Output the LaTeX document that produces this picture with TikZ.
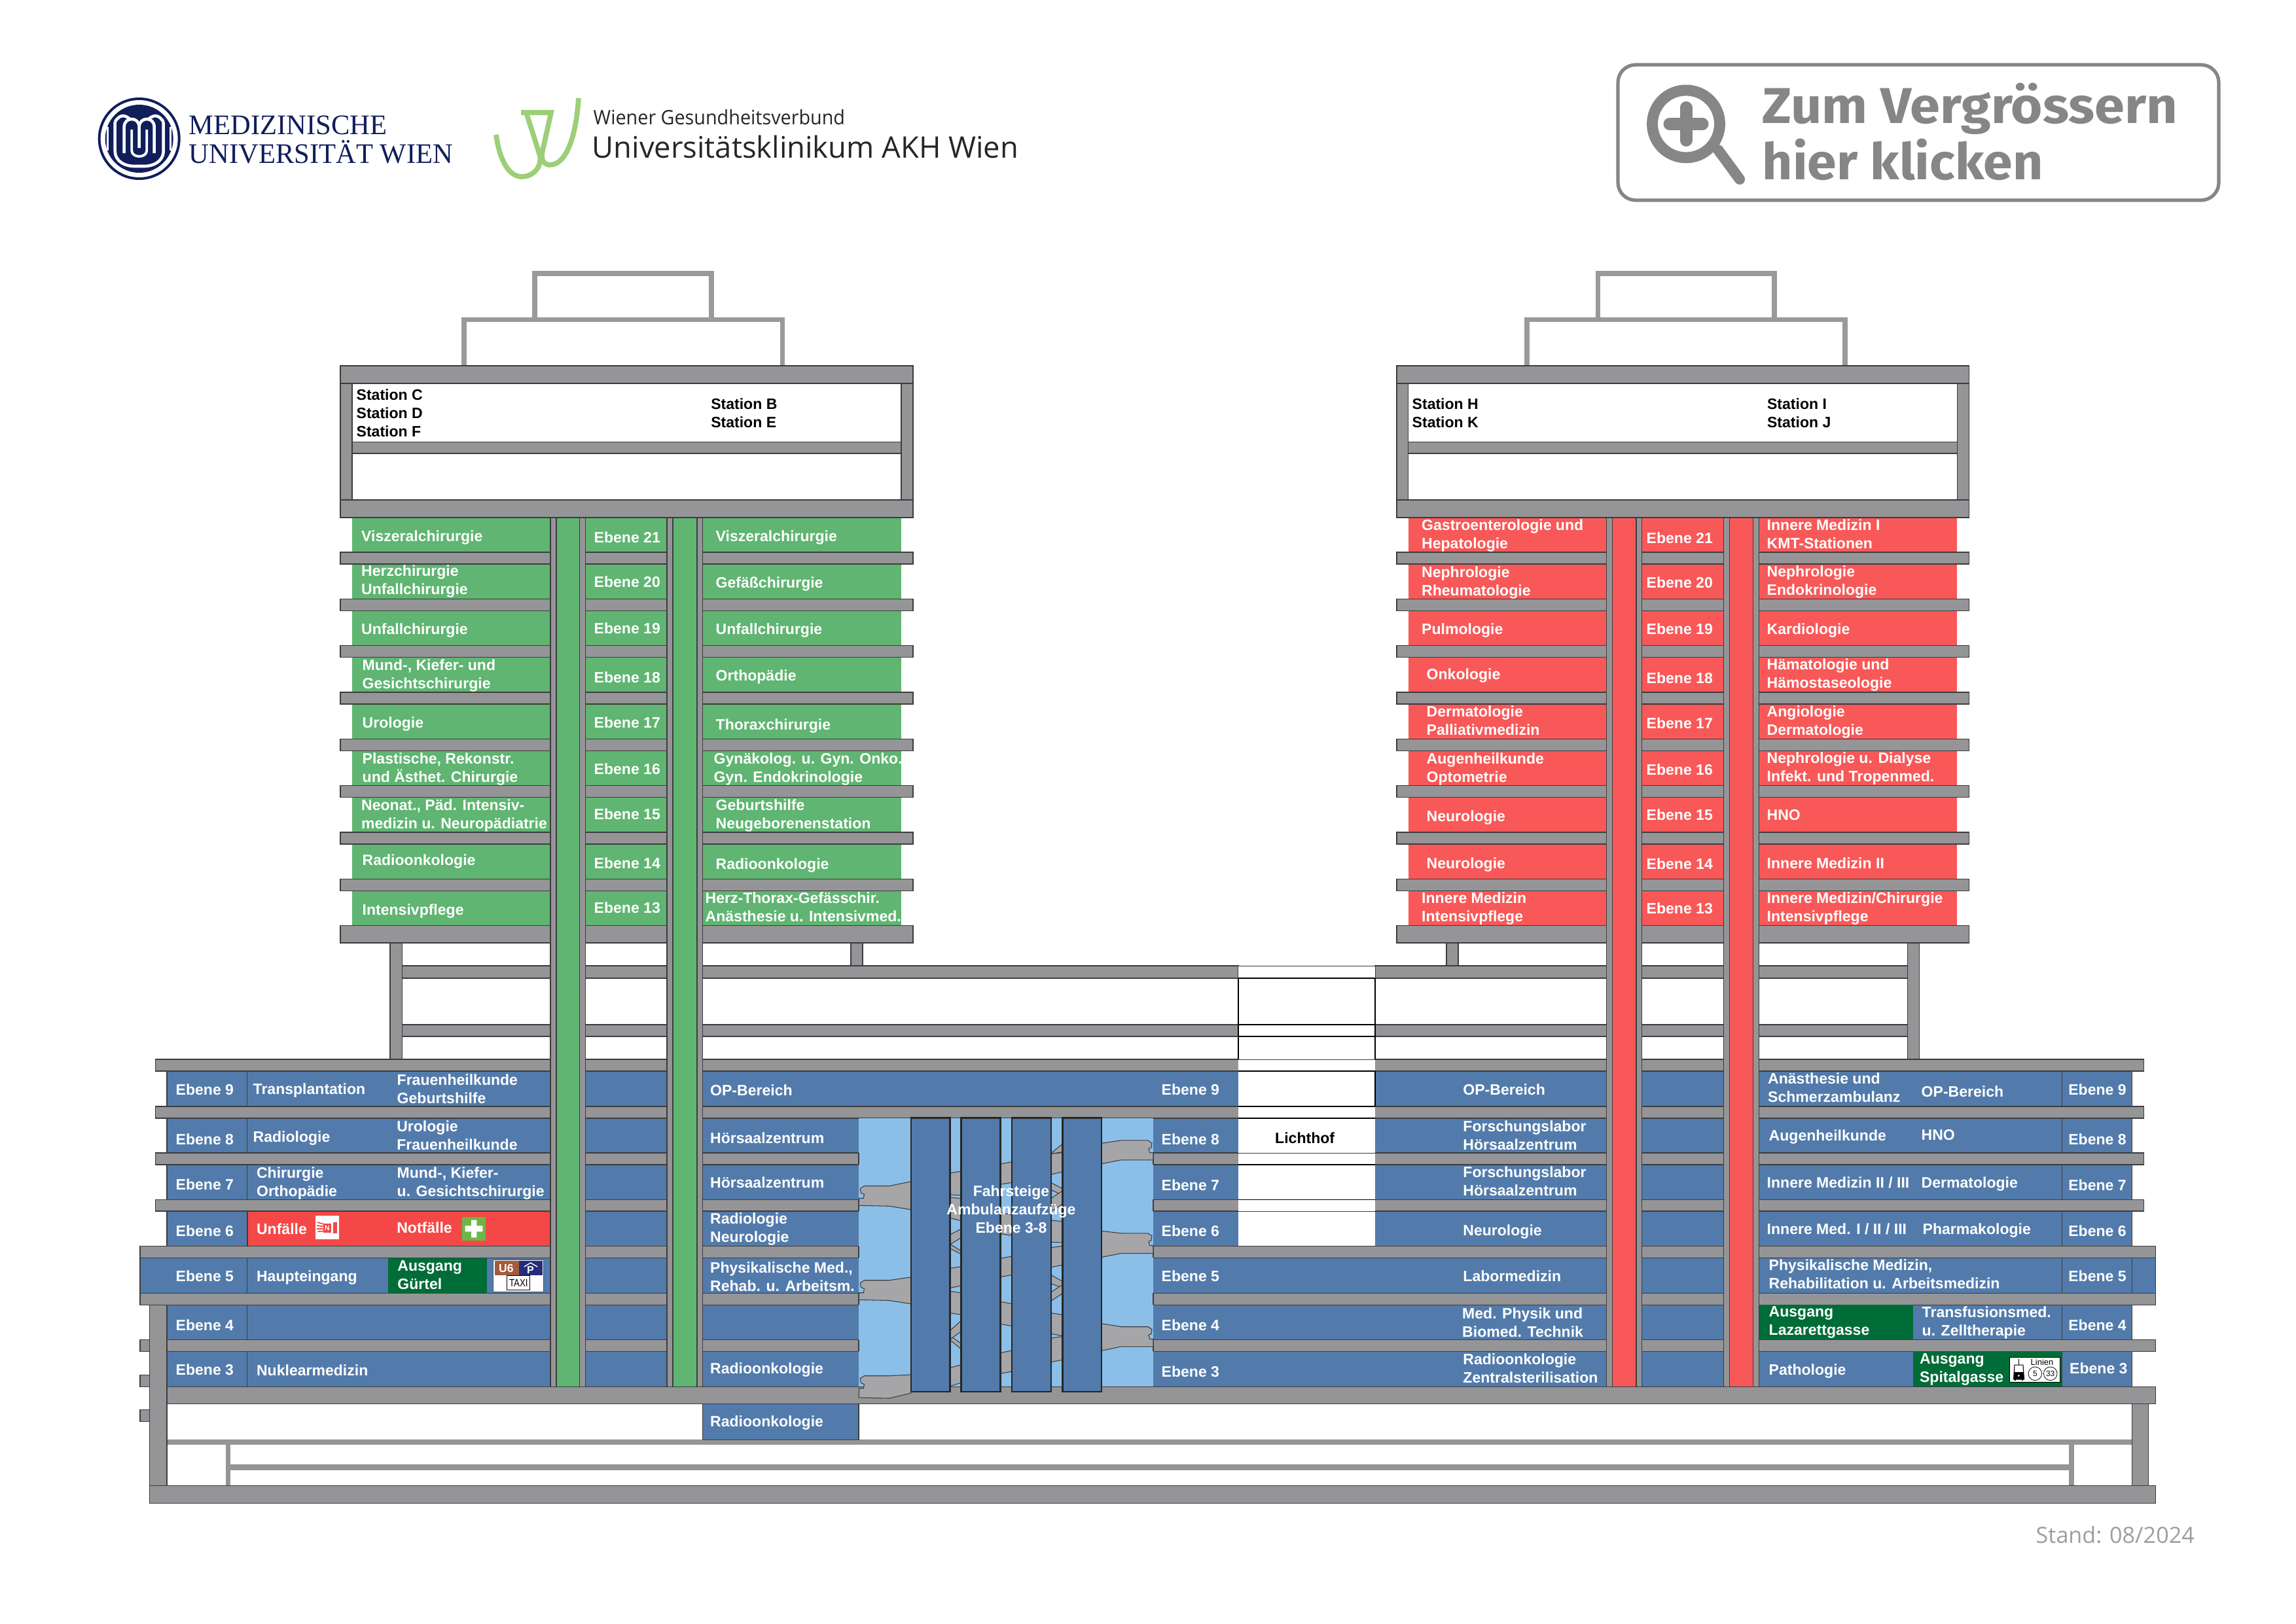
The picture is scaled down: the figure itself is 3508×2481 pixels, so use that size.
\documentclass[tikz,border=0pt]{standalone}
\usepackage{fontspec}
\usepackage{graphicx}
\setmainfont{Liberation Sans}
\newfontfamily\logoserif[FakeStretch=.985]{Liberation Serif}
\newfontfamily\headfontA[FakeStretch=1.075]{Fira Sans}
\newfontfamily\headfontB[FakeStretch=1.045]{Fira Sans}
\newfontfamily\wgvfont{Open Sans}
\newfontfamily\wgvfontA[FakeStretch=.945]{Open Sans}
\definecolor{slabc}{HTML}{959597}
\definecolor{roofc}{HTML}{9A9A9A}
\definecolor{edgec}{HTML}{3C3C3E}
\definecolor{greenc}{HTML}{5FB571}
\definecolor{redc}{HTML}{F85858}
\definecolor{emerg}{HTML}{F44848}
\definecolor{bluec}{HTML}{527BAB}
\definecolor{skyc}{HTML}{8BBFE8}
\definecolor{exitc}{HTML}{006C38}
\definecolor{bridgec}{HTML}{A6A6A8}
\definecolor{navyc}{HTML}{101E5C}
\definecolor{swoosh}{HTML}{9CCF78}
\definecolor{btn}{HTML}{868686}
\definecolor{crossc}{HTML}{6CB845}
\definecolor{u6c}{HTML}{A55A3A}
\definecolor{pc}{HTML}{262C78}
\newcounter{tn}
\newcommand{\rr}[5]{\path[#1] (#2,#3) rectangle (#4,#5);}
\newcommand{\tx}[4][white]{\stepcounter{tn}\node[lbl,text=#1] (t\arabic{tn}) at (#2,#3) {#4};}
\newcommand{\bas}[4]{\stepcounter{tn}\node[anchor=base west,inner sep=0pt,#1] (t\arabic{tn}) at (#2,#3) {#4};}
\newcommand{\gb}[6]{\path[bridge] (#1,#3) -- (#2,#4) -- (#2,#6) -- (#1,#5) -- cycle;}
\newcommand{\brL}[4]{\path[bridge] (1312,#3-1) -- (1358.7,#3) -- (1392,#4) -- (1392,#2) -- (1358.7,#1) -- (1320.4,#1) -- (1314.3,#1+4) -- (1315.3,#1+10.5) -- (1320.4,#1+13) -- (1319.3,#1+19) -- (1312.7,#1+19) -- cycle;}
\newcommand{\brR}[4]{\path[bridge] (1762,#3) -- (1713,#3) -- (1683,#4) -- (1683,#2) -- (1713,#1) -- (1754,#1) -- (1760,#1+4) -- (1759,#1+11) -- (1755,#1+12.5) -- (1756.6,#1+18.7) -- (1762,#1+18.7) -- cycle;}
\tikzset{
  lbl/.style={anchor=west,inner sep=0pt,yshift=-.035cm,align=left,font=\fontsize{6.55pt}{7.97pt}\selectfont\bfseries,
    execute at begin node=\strut,execute at end node=\strut},
  slab/.style={fill=slabc,draw=edgec,line width=.3pt},
  plain/.style={fill=slabc},
  roofl/.style={draw=roofc,line width=2.2pt},
  room/.style={fill=bluec,draw=edgec,line width=.3pt},
  bridge/.style={fill=bridgec,draw=edgec,line width=.3pt},
  pillar/.style={fill=bluec,draw=black!85,line width=.8pt},
  lit/.style={draw=black,line width=.35pt},
  dv/.style={draw=edgec,line width=.3pt},
}
\begin{document}
\begin{tikzpicture}[x=0.01cm,y=-0.01cm]
\useasboundingbox (0,0) rectangle (3508,2481);
\fill[white] (0,0) rectangle (3508,2481);

%% ---------- logos ----------
\begin{scope}[shift={(212.7,212)}]
  \fill[navyc] (0,0) circle[radius=63];
  \fill[white] (0,0) circle[radius=59];
  \fill[navyc] (0,0) circle[radius=52];
  \draw[white,line width=1.3pt] (-37,-26) -- (-37,18) .. controls (-37,36) and (-20,42) .. (-8,42) -- (8,42) .. controls (20,42) and (37,36) .. (37,18) -- (37,-26);
  \draw[white,line width=1.3pt] (-37,-26) .. controls (-30,-36) and (-24,-38) .. (-14,-30);
  \draw[white,line width=1.3pt] (37,-26) .. controls (30,-36) and (24,-38) .. (14,-30);
  \draw[white,line width=1.3pt] (-23,22) -- (-23,-18) .. controls (-23,-34) and (0,-34) .. (0,-18) -- (0,14) (0,-18) .. controls (0,-34) and (23,-34) .. (23,-18) -- (23,22);
  \draw[white,line width=1.1pt] (-11.5,-14) -- (-11.5,18) .. controls (-11.5,30) and (11.5,30) .. (11.5,18) -- (11.5,-14);
  \draw[white,line width=1pt] (-48,-18) -- (-48,18) (48,-18) -- (48,18);
\end{scope}
\bas{font=\logoserif\fontsize{12.3pt}{14pt}\selectfont,text=navyc}{288}{205}{MEDIZINISCHE}
\bas{font=\logoserif\fontsize{12.3pt}{14pt}\selectfont,text=navyc}{288}{249}{UNIVERSITÄT WIEN}
\draw[swoosh,line width=2.2pt] (758,206) .. controls (764,250) and (780,270) .. (797,270) .. controls (815,270) and (828,255) .. (825,238) -- (804,172);
\draw[swoosh,line width=2.2pt] (796,172) -- (842,172) -- (828,235) .. controls (827,245) and (832,252) .. (840,252) .. controls (865,252) and (880,210) .. (884,150);
\bas{font=\wgvfontA\fontsize{8.65pt}{10pt}\selectfont,text=black!85}{906}{190}{Wiener Gesundheitsverbund}
\bas{font=\wgvfont\fontsize{12.9pt}{14pt}\selectfont,text=black!85}{904}{241.5}{Universitätsklinikum AKH Wien}

%% ---------- button ----------
\draw[btn,line width=1.5pt,rounded corners=.27cm] (2472,99) rectangle (3390,306);
\draw[btn,line width=4.8pt] (2576,189.4) circle[radius=51.5];
\draw[btn,line width=5.4pt,line cap=round] (2551,189.4) -- (2601,189.4) (2576,164.4) -- (2576,214.4);
\draw[btn,line width=4.6pt,line cap=round] (2625,229) -- (2658,274);
\bas{font=\headfontA\bfseries\fontsize{21.9pt}{24pt}\selectfont,text=btn}{2692}{188.5}{Zum Vergrössern}
\bas{font=\headfontB\bfseries\fontsize{21.9pt}{24pt}\selectfont,text=btn}{2692}{274.7}{hier klicken}

%% ---------- roofs ----------
\draw[roofl] (709,559) |- (1195.5,488.5) -- (1195.5,559);
\draw[roofl] (817,484.6) |- (1087,418) -- (1087,484.6);
\draw[roofl] (2333,559) |- (2819,488.5) -- (2819,559);
\draw[roofl] (2441.5,484.6) |- (2711,418) -- (2711,484.6);

%% ---------- tower rooms ----------
\fill[greenc] (537.6,791) rectangle (1377,1415);
\fill[redc] (2151.5,791) rectangle (2990,1415);

%% ---------- tower slabs ----------
\foreach \xa/\xb/\xc/\xd in {520/538/1377/1395,2134/2151.5/2990/3008}{
  \rr{slab}{\xa}{559}{\xd}{586}
  \rr{slab}{\xa}{586}{\xb}{764}
  \rr{slab}{\xc}{586}{\xd}{764}
  \rr{slab}{\xb}{675.6}{\xc}{693}
  \rr{slab}{\xa}{764}{\xd}{791}
  \foreach \y in {844,915.3,986.6,1058,1129.3,1200.6,1272,1343.3}{
    \rr{slab}{\xa}{\y}{\xd}{\y+18}
  }
  \rr{slab}{\xa}{1414.5}{\xd}{1441}
}
%% ---------- posts and link slabs ----------
\rr{slab}{596}{1441}{614.4}{1619}
\rr{slab}{1300}{1441}{1318}{1476}
\rr{slab}{2210}{1441}{2228}{1476}
\rr{slab}{2914}{1441}{2932.4}{1619}
\foreach \y/\yy in {1476/1495,1566/1584}{
  \rr{slab}{614.4}{\y}{1892}{\yy}
  \rr{slab}{2101}{\y}{2914}{\yy}
}
%% ---------- low building: rows ----------
\foreach \y/\yy in {1637/1691,1709/1762,1780/1833.4,1851/1904.6,1994/2047.5,2065/2119}{
  \rr{room}{255}{\y}{3257.7}{\yy}
}
\rr{room}{214}{1922.4}{3293.6}{1976}
\foreach \y/\yy in {1619/1637,1691/1709,1762/1780,1833.4/1851}{
  \rr{slab}{237.4}{\y}{3275}{\yy}
}
\rr{slab}{214}{1904.6}{3293.6}{1922.4}
\rr{slab}{214}{1976}{3293.6}{1994}
\rr{slab}{255}{2047.5}{3293.6}{2065}
%% coloured cells
\rr{fill=emerg,draw=edgec,line width=.3pt}{378}{1851}{841}{1904.6}
\rr{fill=exitc}{593.3}{1922.8}{744}{1975.6}
\rr{fill=exitc}{2687.5}{1994.4}{2923}{2047.2}
\rr{fill=exitc}{2923}{2065.4}{3150.5}{2118.6}
%% dividers
\foreach \y/\yy in {1637/1691,1709/1762,1780/1833.4,1851/1904.6,1922.4/1976,1994/2047.5,2065/2119}{
  \draw[dv] (377.5,\y) -- (377.5,\yy);
  \draw[dv] (3150.5,\y) -- (3150.5,\yy);
}
\draw[dv] (3257.7,1922.4) -- (3257.7,1976);
%% lower part
\rr{plain}{255}{2200}{3257}{2208}
\rr{plain}{344.5}{2238}{3160.6}{2247}
\rr{plain}{344.5}{2208}{352}{2270}
\rr{plain}{3160.6}{2208}{3169}{2270}
\rr{room}{1073.5}{2145}{1312}{2200}
\rr{slab}{228.6}{1994}{255}{2270}
\rr{slab}{3257}{2145}{3282.5}{2270}
\rr{slab}{214}{2047.5}{228.6}{2065}
\rr{slab}{214}{2101}{228.6}{2119}
\rr{slab}{214}{2154}{228.6}{2172}
\rr{slab}{228.6}{2270}{3293.6}{2297}

%% ---------- Lichthof ----------
\fill[white] (1892,1476) rectangle (2101,1904.6);
\foreach \y in {1495,1566,1584,1637,1691,1709,1780,1833.4}{
  \draw[lit] (1892,\y) -- (2101,\y);
}
\foreach \y in {1476,1619,1762,1851,1904.6}{
  \draw[edgec,line width=.25pt] (1892,\y) -- (2101,\y);
}
\draw[lit] (1892,1495) -- (1892,1619) (2101,1495) -- (2101,1619) (2101,1637) -- (2101,1691);

%% ---------- shafts ----------
\foreach \a/\b/\c/\d/\col in {841/850/885.5/894.5/greenc,1019/1028/1065/1073.5/greenc,2454.5/2463.5/2500/2508.5/redc,2633/2642/2678.5/2687.5/redc}{
  \rr{slab}{\a}{791}{\d}{2119}
  \rr{fill=\col,draw=edgec,line width=.3pt}{\b}{791}{\c}{2119}
}
\rr{slab}{255}{2119}{3293.6}{2145.5}

%% ---------- ramps and lifts ----------
\fill[skyc] (1312,1708.8) rectangle (1762,2118.6);
\foreach \y/\yy in {1762/1780,1833.4/1851,1904.6/1922.4,1976/1994,2047.5/2065}{
  \draw[dv] (1312,\y) -- (1312,\yy);
  \draw[dv] (1762,\y) -- (1762,\yy);
}
\brL{1812.5}{1805.8}{1843.3}{1848.7}
\brL{1956.7}{1951.8}{1987.5}{1992.8}
\brL{2102.7}{2101}{2137}{2129}
\brR{1742.9}{1747.3}{1772.8}{1778.6}
\brR{1884.8}{1881.3}{1915.6}{1921.4}
\brR{2027.7}{2022.8}{2058}{2064.3}
\begin{scope}[shift={(1440,1720)},x=0.01cm/3,y=-0.01cm/3]
  %% gap A
  \gb{36}{85}{218}{210}{318}{320}
  \gb{36}{85}{330}{335}{425}{437}
  \gb{36}{85}{545}{575}{565}{590}
  \gb{36}{85}{500}{475}{545}{515}
  \gb{36}{85}{655}{647}{745}{735}
  \gb{36}{85}{760}{768}{860}{868}
  \gb{36}{85}{965}{1000}{985}{1025}
  \gb{36}{85}{940}{895}{980}{945}
  \gb{36}{85}{1110}{1098}{1195}{1180}
  %% gap B
  \gb{265}{318}{177}{167}{270}{262}
  \gb{265}{318}{400}{410}{497}{505}
  \gb{265}{318}{610}{600}{695}{685}
  \gb{265}{318}{808}{818}{910}{920}
  \gb{265}{318}{1043}{1032}{1138}{1128}
  %% gap C
  \gb{497}{550}{128}{85}{130}{122}
  \gb{497}{550}{130}{125}{225}{213}
  \gb{497}{550}{262}{290}{295}{320}
  \gb{497}{550}{335}{300}{395}{360}
  \gb{497}{550}{435}{440}{535}{537}
  \gb{497}{550}{560}{553}{650}{640}
  \gb{497}{550}{685}{715}{725}{745}
  \gb{497}{550}{765}{730}{805}{770}
  \gb{497}{550}{860}{868}{955}{965}
  \gb{497}{550}{975}{968}{1085}{1075}
\end{scope}
\foreach \a/\b in {1392/1451.5,1468.4/1528.6,1546/1606,1623.5/1683}{
  \rr{pillar}{\a}{1708.5}{\b}{2127}
}

%% ---------- icons ----------
\fill[white] (482,1858) rectangle (518,1894);
\fill[emerg] (494,1870) rectangle (506,1884);
\draw[emerg,line width=.5pt] (485,1868) -- (495,1871) (484,1873) -- (495,1874.5) (484,1878) -- (495,1878) (486,1882) -- (495,1881.5);
\fill[emerg] (509,1868) rectangle (515,1885);
\node[inner sep=0pt,text=white,font=\fontsize{3pt}{3pt}\selectfont\bfseries] (handn) at (500,1877) {N};
\fill[crossc] (706,1860) rectangle (742,1896);
\fill[white] (710.7,1873.3) rectangle (737.3,1882.3) (720,1864.7) rectangle (728.3,1891.3);
\rr{fill=white,draw=bluec!70!black,line width=.2pt}{753.3}{1925.3}{830.7}{1974}
\fill[u6c] (756,1927.3) rectangle (792.7,1949);
\fill[pc] (792.7,1927.3) rectangle (828.7,1949);
\node[inner sep=0pt,text=white,font=\fontsize{5pt}{5pt}\selectfont\bfseries] (u6) at (773.3,1938.3) {U6};
\node[inner sep=0pt,text=white,font=\fontsize{4.5pt}{5pt}\selectfont\bfseries] (pk) at (810.5,1941.5) {P};
\draw[white,line width=.4pt] (800.7,1936) -- (810.7,1930) -- (821,1936);
\node[draw=black,line width=.3pt,fill=white,inner sep=0pt,minimum height=.217cm,minimum width=.353cm,font=\fontsize{4.6pt}{5pt}\selectfont] (taxi) at (792.3,1960.8) {\scalebox{.82}[1]{TAXI}};
\rr{fill=white,draw=black,line width=.35pt}{3070.7}{2074.3}{3147.3}{2112.3}
\draw[black,line width=.25pt] (3084.3,2076.7) -- (3084.3,2086);
\draw[black,line width=.3pt] (3078,2086) -- (3091,2086) -- (3092.5,2108) -- (3076.5,2108) -- cycle;
\fill[black] (3076.8,2097) rectangle (3092.3,2108);
\fill[white] (3084.3,2102.5) circle[radius=1.6];
\draw[black,line width=.4pt] (3079,2108) -- (3079,2110) (3090,2108) -- (3090,2110);
\node[inner sep=0pt,text=black,font=\fontsize{3.7pt}{4pt}\selectfont] (lin) at (3120,2082.3) {Linien};
\node[draw=black,circle,line width=.22pt,minimum size=.206cm,inner sep=0pt,text=black,font=\fontsize{3.4pt}{4pt}\selectfont] (l5) at (3109.3,2099.3) {5};
\node[draw=black,circle,line width=.22pt,minimum size=.206cm,inner sep=0pt,text=black,font=\fontsize{3.4pt}{4pt}\selectfont] (l33) at (3132.7,2099.3) {33};

%% ---------- station labels ----------
\tx[black]{544}{631.5}{Station C\\Station D\\Station F}
\tx[black]{1085.6}{631.5}{Station B\\Station E}
\tx[black]{2157}{631.5}{Station H\\Station K}
\tx[black]{2699.4}{631.5}{Station I\\Station J}

%% ---------- tower left ----------
\tx{551.5}{818}{Viszeralchirurgie}
\tx{551.5}{887}{Herzchirurgie\\Unfallchirurgie}
\tx{551.5}{960}{Unfallchirurgie}
\tx{553}{1030.4}{Mund-, Kiefer- und\\Gesichtschirurgie}
\tx{553}{1103}{Urologie}
\tx{553}{1174}{Plastische, Rekonstr.\\und Ästhet. Chirurgie}
\tx{551.5}{1244.6}{Neonat., Päd. Intensiv-\\medizin u. Neuropädiatrie}
\tx{553}{1313}{Radioonkologie}
\tx{553}{1389}{Intensivpflege}
\tx{907}{820}{Ebene 21}
\tx{907}{888.4}{Ebene 20}
\tx{907}{959}{Ebene 19}
\tx{907}{1034}{Ebene 18}
\tx{907}{1103}{Ebene 17}
\tx{907}{1174}{Ebene 16}
\tx{907}{1243}{Ebene 15}
\tx{907}{1318}{Ebene 14}
\tx{907}{1386}{Ebene 13}
\tx{1093}{818}{Viszeralchirurgie}
\tx{1093}{889}{Gefäßchirurgie}
\tx{1093}{960}{Unfallchirurgie}
\tx{1093}{1031.5}{Orthopädie}
\tx{1093}{1106}{Thoraxchirurgie}
\tx{1090}{1174}{Gynäkolog. u. Gyn. Onko.\\Gyn. Endokrinologie}
\tx{1093}{1244.4}{Geburtshilfe\\Neugeborenenstation}
\tx{1093}{1319}{Radioonkologie}
\tx{1077}{1387}{Herz-Thorax-Gefässchir.\\Anästhesie u. Intensivmed.}

%% ---------- tower right ----------
\tx{2171.5}{816.4}{Gastroenterologie und\\Hepatologie}
\tx{2171.5}{889}{Nephrologie\\Rheumatologie}
\tx{2171.5}{960}{Pulmologie}
\tx{2179}{1029}{Onkologie}
\tx{2179}{1102}{Dermatologie\\Palliativmedizin}
\tx{2179}{1174}{Augenheilkunde\\Optometrie}
\tx{2179}{1246}{Neurologie}
\tx{2179}{1318}{Neurologie}
\tx{2171.5}{1387}{Innere Medizin\\Intensivpflege}
\tx{2515}{821}{Ebene 21}
\tx{2515}{889}{Ebene 20}
\tx{2515}{960}{Ebene 19}
\tx{2515}{1035}{Ebene 18}
\tx{2515}{1104}{Ebene 17}
\tx{2515}{1175}{Ebene 16}
\tx{2515}{1244}{Ebene 15}
\tx{2515}{1319}{Ebene 14}
\tx{2515}{1387}{Ebene 13}
\tx{2699}{817}{Innere Medizin I\\KMT-Stationen}
\tx{2699}{888}{Nephrologie\\Endokrinologie}
\tx{2699}{960}{Kardiologie}
\tx{2699}{1030}{Hämatologie und\\Hämostaseologie}
\tx{2699}{1102}{Angiologie\\Dermatologie}
\tx{2699}{1172.5}{Nephrologie u. Dialyse\\Infekt. und Tropenmed.}
\tx{2699}{1244}{HNO}
\tx{2699}{1318}{Innere Medizin II}
\tx{2699}{1387}{Innere Medizin/Chirurgie\\Intensivpflege}

%% ---------- low building left ----------
\tx{268}{1664.6}{Ebene 9}
\tx{268}{1740}{Ebene 8}
\tx{268}{1809}{Ebene 7}
\tx{268}{1880}{Ebene 6}
\tx{268}{1949}{Ebene 5}
\tx{268}{2024}{Ebene 4}
\tx{268}{2092}{Ebene 3}
\tx{386}{1663.5}{Transplantation}
\tx{606}{1665}{Frauenheilkunde\\Geburtshilfe}
\tx{386}{1736}{Radiologie}
\tx{605.6}{1736}{Urologie\\Frauenheilkunde}
\tx{391.4}{1807}{Chirurgie\\Orthopädie}
\tx{606}{1806.7}{Mund-, Kiefer-\\u. Gesichtschirurgie}
\tx{391.4}{1877}{Unfälle}
\tx{605.6}{1875}{Notfälle}
\tx{391.4}{1949}{Haupteingang}
\tx{606.7}{1949}{Ausgang\\Gürtel}
\tx{391.4}{2093}{Nuklearmedizin}
\tx{1084.5}{1665}{OP-Bereich}
\tx{1084.5}{1738.7}{Hörsaalzentrum}
\tx{1084.5}{1806.4}{Hörsaalzentrum}
\tx{1084.5}{1877.3}{Radiologie\\Neurologie}
\tx{1084.5}{1951.4}{Physikalische Med.,\\Rehab. u. Arbeitsm.}
\tx{1084.5}{2090.6}{Radioonkologie}
\tx{1084.5}{2171.5}{Radioonkologie}
\stepcounter{tn}\node[lbl,align=center,anchor=center,text=white] (t\arabic{tn}) at (1545,1849) {Fahrsteige\\Ambulanzaufzüge\\Ebene 3-8};

%% ---------- low building centre ----------
\tx{1774}{1664.6}{Ebene 9}
\tx{1774}{1740}{Ebene 8}
\tx{1774}{1810}{Ebene 7}
\tx{1774}{1880}{Ebene 6}
\tx{1774}{1949}{Ebene 5}
\tx{1774}{2024}{Ebene 4}
\tx{1774}{2095}{Ebene 3}
\tx[black]{1947.5}{1738}{Lichthof}
\tx{2234.7}{1664}{OP-Bereich}
\tx{2234.7}{1736}{Forschungslabor\\Hörsaalzentrum}
\tx{2234.7}{1806}{Forschungslabor\\Hörsaalzentrum}
\tx{2234.7}{1879}{Neurologie}
\tx{2234.7}{1949}{Labormedizin}
\tx{2233.5}{2022}{Med. Physik und\\Biomed. Technik}
\tx{2234.7}{2092}{Radioonkologie\\Zentralsterilisation}

%% ---------- low building right ----------
\tx{2700.5}{1663}{Anästhesie und\\Schmerzambulanz}
\tx{2935}{1667}{OP-Bereich}
\tx{2702}{1734}{Augenheilkunde}
\tx{2935}{1733}{HNO}
\tx{2699}{1806}{Innere Medizin II / III}
\tx{2935}{1806}{Dermatologie}
\tx{2699}{1877}{Innere Med. I / II / III}
\tx{2937}{1877}{Pharmakologie}
\tx{2702}{1948}{Physikalische Medizin,\\Rehabilitation u. Arbeitsmedizin}
\tx{2702}{2019.4}{Ausgang\\Lazarettgasse}
\tx{2936}{2020}{Transfusionsmed.\\u. Zelltherapie}
\tx{2702}{2092}{Pathologie}
\tx{2932.4}{2091}{Ausgang\\Spitalgasse}
\tx{3159.6}{1664.6}{Ebene 9}
\tx{3159.6}{1740}{Ebene 8}
\tx{3159.6}{1810}{Ebene 7}
\tx{3159.6}{1880}{Ebene 6}
\tx{3159.6}{1949}{Ebene 5}
\tx{3159.6}{2024}{Ebene 4}
\tx{3161.5}{2090}{Ebene 3}

\bas{font=\wgvfont\fontsize{9.7pt}{11pt}\selectfont,text=black!38}{3110}{2358}{Stand: 08/2024}
\end{tikzpicture}
\end{document}
